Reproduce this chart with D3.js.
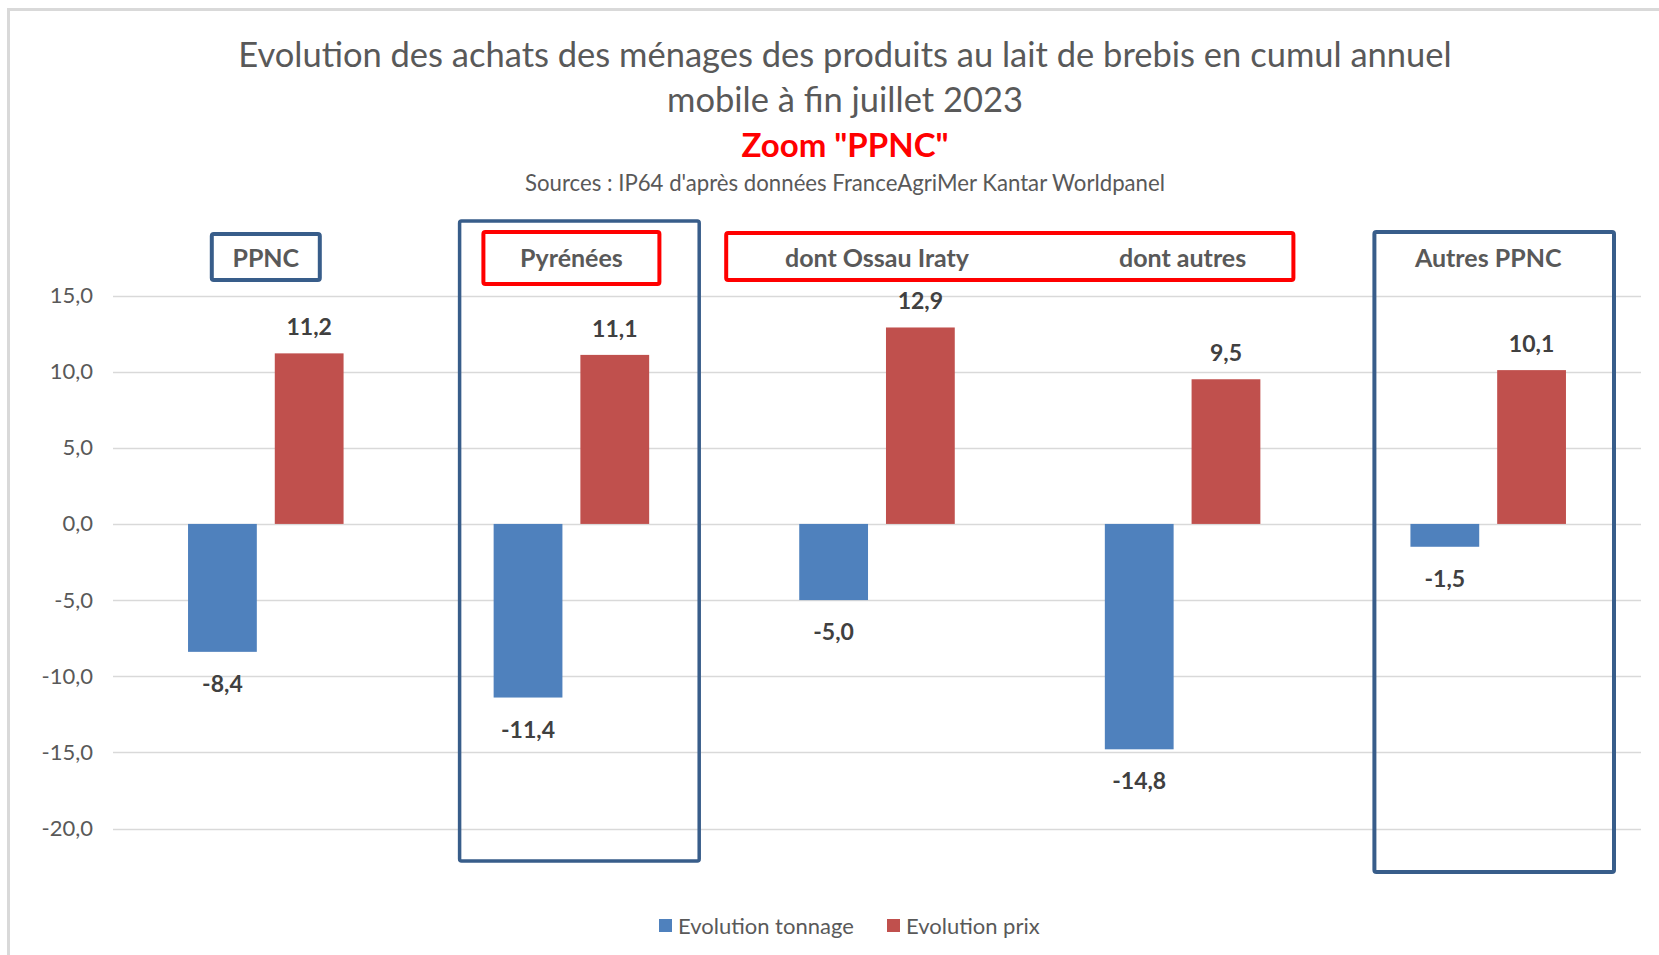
<!DOCTYPE html>
<html>
<head>
<meta charset="utf-8">
<script src="https://cdn.jsdelivr.net/npm/d3@7"></script>
<style>
  body { margin: 0; background: #fff; }
  svg text { font-family: Lato, "Open Sans", sans-serif; }
</style>
</head>
<body>
<svg id="chart" width="1659" height="955"></svg>
<script>
// data
const categories = ['PPNC', 'Pyrénées', 'dont Ossau Iraty', 'dont autres', 'Autres PPNC'];
const seriesNames = ['Evolution tonnage', 'Evolution prix'];
const tonnage = [-8.4, -11.4, -5.0, -14.8, -1.5];
const prix = [11.2, 11.1, 12.9, 9.5, 10.1];
const yTicks = [-20, -15, -10, -5, 0, 5, 10, 15];
const titleLines = ['Evolution des achats des ménages des produits au lait de brebis en cumul annuel', 'mobile à fin juillet 2023'];

const colors = {'Evolution tonnage': '#4F81BD', 'Evolution prix': '#C0504D'};
const textGray = '#595959';
const boxBlue = '#385D8A';
const boxRed = '#FF0000';

// french decimal comma, plain hyphen for minus
const loc = d3.formatLocale({decimal: ',', thousands: ' ', grouping: [3], currency: ['', ' €'], minus: '-'});
const fmt = loc.format('.1f');

const svg = d3.select('#chart');
const W = 1659, H = 955;
const plot = {x1: 113, x2: 1641, y1: 295.5, y2: 828.5};

// outer frame (only top and left edges visible)
svg.append('path')
  .attr('d', 'M8.5,' + H + 'V9.5H' + W)
  .attr('fill', 'none')
  .attr('stroke', '#D9D9D9')
  .attr('stroke-width', 3);

// titles
const tg = svg.append('g').attr('text-anchor', 'middle').attr('fill', textGray);
tg.selectAll('.title').data(titleLines).enter()
  .append('text')
  .attr('class', 'title')
  .attr('x', 845)
  .attr('y', (d, i) => 53 + i * 45)
  .attr('dominant-baseline', 'central')
  .style('font-size', '34.5px')
  .text(d => d);
tg.append('text')
  .attr('x', 845).attr('y', 144)
  .attr('dominant-baseline', 'central')
  .attr('fill', '#FF0000')
  .style('font-size', '33px').style('font-weight', 'bold')
  .text('Zoom "PPNC"');
tg.append('text')
  .attr('x', 845).attr('y', 182)
  .attr('dominant-baseline', 'central')
  .style('font-size', '22.2px')
  .text("Sources : IP64 d'après données FranceAgriMer Kantar Worldpanel");

// scales
const x0 = d3.scaleBand().domain(categories).range([plot.x1, plot.x2]);
const x1 = d3.scaleBand().domain(seriesNames).range([0, x0.bandwidth()])
  .paddingInner(0.207).paddingOuter(0.865);
const y = d3.scaleLinear().domain([-20, 15]).range([plot.y2, plot.y1]);

// gridlines
svg.append('g').selectAll('line').data(yTicks).enter()
  .append('line')
  .attr('x1', plot.x1).attr('x2', plot.x2)
  .attr('y1', d => Math.round(y(d)) + 0.5).attr('y2', d => Math.round(y(d)) + 0.5)
  .attr('stroke', '#D9D9D9').attr('stroke-width', 1.5);

// y axis labels
const yAxis = d3.axisLeft(y).tickValues(yTicks).tickFormat(fmt).tickSize(0).tickPadding(0);
svg.append('g')
  .attr('transform', 'translate(93,0)')
  .call(yAxis)
  .call(g => g.select('.domain').remove())
  .call(g => g.selectAll('text')
    .attr('fill', textGray)
    .style('font-size', '22px')
    .style('font-family', 'Lato, sans-serif'));

// bars
const rows = categories.map((c, i) => ({cat: c, vals: [
  {s: seriesNames[0], v: tonnage[i]},
  {s: seriesNames[1], v: prix[i]}
]}));

const gGroups = svg.append('g').selectAll('.g_cat').data(rows).enter()
  .append('g')
  .attr('class', 'g_cat')
  .attr('transform', d => 'translate(' + x0(d.cat) + ',0)');

gGroups.selectAll('rect').data(d => d.vals).enter()
  .append('rect')
  .attr('x', d => x1(d.s))
  .attr('width', x1.bandwidth())
  .attr('y', d => y(Math.max(0, d.v)))
  .attr('height', d => Math.abs(y(d.v) - y(0)))
  .attr('fill', d => colors[d.s]);

gGroups.selectAll('.lbl').data(d => d.vals).enter()
  .append('text')
  .attr('class', 'lbl')
  .attr('x', d => x1(d.s) + x1.bandwidth() / 2)
  .attr('y', d => d.v >= 0 ? y(d.v) - 27 : y(d.v) + 31)
  .attr('text-anchor', 'middle')
  .attr('dominant-baseline', 'central')
  .attr('fill', '#404040')
  .style('font-size', '23px').style('font-weight', 'bold')
  .text(d => fmt(d.v));

// annotation boxes
const bw = x0.bandwidth();
const cx = c => x0(c) + bw / 2;
const boxes = [
  {x: cx('PPNC') - 54, y: 234, w: 108, h: 46, c: boxBlue, sw: 4},
  {x: x0('Pyrénées') + 41, y: 221, w: bw - 41 - 25, h: 640, c: boxBlue, sw: 3.5},
  {x: cx('Pyrénées') - 88, y: 232, w: 176, h: 52, c: boxRed, sw: 4},
  {x: x0('dont Ossau Iraty') + 2, y: 233, w: (x0('dont autres') + bw - 42) - (x0('dont Ossau Iraty') + 2), h: 47, c: boxRed, sw: 4},
  {x: x0('Autres PPNC') + 39, y: 232, w: bw - 39 - 27, h: 640, c: boxBlue, sw: 4}
];
svg.append('g').selectAll('rect').data(boxes).enter()
  .append('rect')
  .attr('x', d => d.x).attr('y', d => d.y)
  .attr('width', d => d.w).attr('height', d => d.h)
  .attr('rx', 2)
  .attr('fill', 'none')
  .attr('stroke', d => d.c)
  .attr('stroke-width', d => d.sw);

// category labels at top
svg.append('g').selectAll('text').data(categories).enter()
  .append('text')
  .attr('x', d => cx(d))
  .attr('y', 257)
  .attr('text-anchor', 'middle')
  .attr('dominant-baseline', 'central')
  .attr('fill', textGray)
  .style('font-size', '25px').style('font-weight', 'bold')
  .text(d => d);

// legend
const legend = svg.append('g');
const legItems = [{s: seriesNames[0], x: 659}, {s: seriesNames[1], x: 887}];
legItems.forEach(it => {
  legend.append('rect')
    .attr('x', it.x).attr('y', 919)
    .attr('width', 13).attr('height', 13)
    .attr('fill', colors[it.s]);
  legend.append('text')
    .attr('x', it.x + 19).attr('y', 925)
    .attr('dominant-baseline', 'central')
    .attr('fill', textGray)
    .style('font-size', '22px')
    .text(it.s);
});
</script>
</body>
</html>
